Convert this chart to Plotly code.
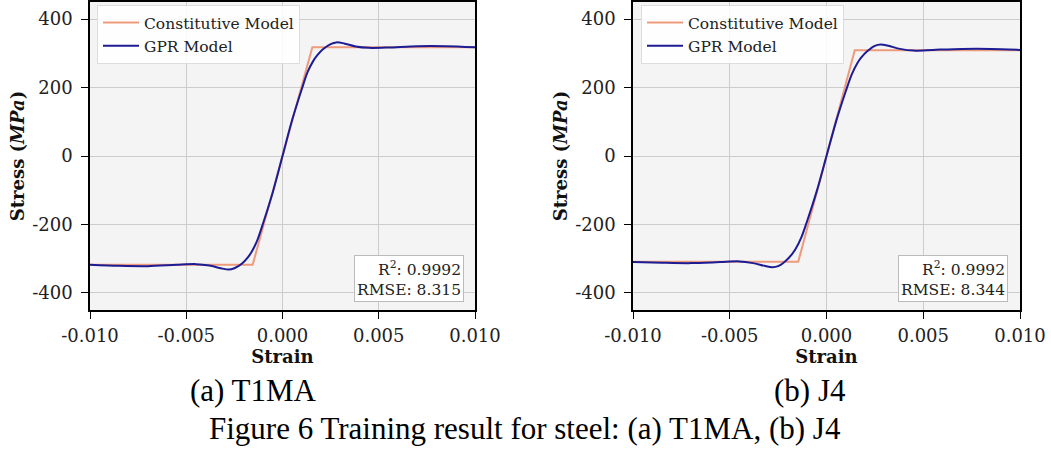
import plotly.graph_objects as go

# ---- data ----
strain_const_a = [-0.010, -0.00155, 0.00155, 0.010]
stress_const_a = [-318, -318, 318, 318]
strain_const_b = [-0.010, -0.00146, 0.00146, 0.010]
stress_const_b = [-309, -309, 309, 309]

strain_gpr = [-0.010, -0.0085, -0.007, -0.0055, -0.0045, -0.0038, -0.0032, -0.0028,
              -0.0025, -0.0021, -0.0018, -0.0016, -0.0013, -0.001, -0.0005, 0.0,
              0.0005, 0.001, 0.0013, 0.0016, 0.0018, 0.0021, 0.0025, 0.0028,
              0.0032, 0.0038, 0.0045, 0.0055, 0.007, 0.0085, 0.010]
stress_gpr_a = [-318, -321, -322, -318, -316, -320, -328, -332,
                -328, -314, -296, -280, -245, -195, -105, 0,
                105, 195, 245, 278, 294, 312, 327, 332,
                329, 320, 316, 317, 321, 321, 318]
stress_gpr_b = [-310, -312, -313, -310, -308, -313, -321, -325,
                -322, -306, -288, -272, -238, -190, -102, 0,
                102, 190, 238, 272, 288, 306, 322, 326,
                322, 313, 308, 310, 313, 313, 310]

metrics_a = ("0.9992", "8.315")
metrics_b = ("0.9992", "8.344")

x_ticks = [-0.010, -0.005, 0.0, 0.005, 0.010]
x_ticklabels = ["-0.010", "-0.005", "0.000", "0.005", "0.010"]
y_ticks = [-400, -200, 0, 200, 400]
y_ticklabels = ["-400", "-200", "0", "200", "400"]

C_CONST = "#ee9a7c"
C_GPR = "#1c1c94"
SERIF = "DejaVu Serif"
TIMES = "Liberation Serif"

fig = go.Figure()

for i, (sc, ssc, sg, leg) in enumerate([
        (strain_const_a, stress_const_a, stress_gpr_a, "legend"),
        (strain_const_b, stress_const_b, stress_gpr_b, "legend2")]):
    xa = "x" if i == 0 else "x2"
    ya = "y" if i == 0 else "y2"
    fig.add_trace(go.Scatter(x=sc, y=ssc, mode="lines", name="Constitutive Model",
                             line=dict(color=C_CONST, width=2), xaxis=xa, yaxis=ya, legend=leg))
    fig.add_trace(go.Scatter(x=strain_gpr, y=sg, mode="lines", name="GPR Model",
                             line=dict(color=C_GPR, width=2, shape="spline", smoothing=0.8),
                             xaxis=xa, yaxis=ya, legend=leg))

W, H = 1051, 453
ydom = [1 - 310 / H, 1 - 2 / H]
xdom1 = [90 / W, 475 / W]
xdom2 = [633 / W, 1020 / W]

def xax(dom, anchor):
    return dict(domain=dom, anchor=anchor, range=[-0.010, 0.010], tickvals=x_ticks,
                ticktext=x_ticklabels, ticks="outside", ticklen=7, tickwidth=1.3,
                tickcolor="black", showgrid=True, gridcolor="#cccccc", gridwidth=1,
                showline=True, linecolor="black", linewidth=1.5, mirror=True,
                zeroline=False, automargin=False, ticklabelstandoff=2,
                tickfont=dict(family=SERIF, size=18, color="#222"),
                title=dict(text="<b>Strain</b>", font=dict(family=SERIF, size=18, color="#111"),
                           standoff=0))

def yax(anchor):
    return dict(domain=ydom, anchor=anchor, range=[-450, 450], tickvals=y_ticks,
                ticktext=y_ticklabels, ticks="outside", ticklen=7, tickwidth=1.3,
                tickcolor="black", showgrid=True, gridcolor="#cccccc", gridwidth=1,
                showline=True, linecolor="black", linewidth=1.5, mirror=True,
                zeroline=False, automargin=False, ticklabelstandoff=5,
                tickfont=dict(family=SERIF, size=18, color="#222"),
                title=dict(text="<b>Stress (<i>MPa</i>)</b>",
                           font=dict(family=SERIF, size=18, color="#111"), standoff=3))

legend_common = dict(bgcolor="rgba(255,255,255,0.85)", bordercolor="#dddddd", borderwidth=1,
                     font=dict(family=SERIF, size=15.5, color="#222"), xanchor="left",
                     yanchor="top", tracegroupgap=0, itemwidth=36)

fig.update_layout(
    width=W, height=H, margin=dict(l=0, r=0, t=0, b=0),
    paper_bgcolor="white", plot_bgcolor="#f4f4f4",
    xaxis=xax(xdom1, "y"), yaxis=yax("x"),
    xaxis2=xax(xdom2, "y2"), yaxis2=yax("x2"),
    legend=dict(x=97 / W, y=1 - 5 / H, **legend_common),
    legend2=dict(x=641 / W, y=1 - 5 / H, **legend_common),
    showlegend=True,
)

for (r2, rmse), xr in [(metrics_a, 464 / W), (metrics_b, 1008 / W)]:
    fig.add_annotation(xref="paper", yref="paper", x=xr, y=1 - 302 / H,
                       xanchor="right", yanchor="bottom", align="right", showarrow=False,
                       text=f"R<sup>2</sup>: {r2}<br>RMSE: {rmse}",
                       font=dict(family=SERIF, size=15.5, color="#222"),
                       bgcolor="white", bordercolor="#bbbbbb", borderwidth=1, borderpad=2)

fig.add_annotation(xref="paper", yref="paper", x=253 / W, y=1 - 390 / H, showarrow=False,
                   text="(a) T1MA", font=dict(family=TIMES, size=31, color="black"),
                   xanchor="center", yanchor="middle")
fig.add_annotation(xref="paper", yref="paper", x=810 / W, y=1 - 390 / H, showarrow=False,
                   text="(b) J4", font=dict(family=TIMES, size=31, color="black"),
                   xanchor="center", yanchor="middle")
fig.add_annotation(xref="paper", yref="paper", x=525 / W, y=1 - 428 / H, showarrow=False,
                   text="Figure 6 Training result for steel: (a) T1MA, (b) J4",
                   font=dict(family=TIMES, size=31, color="black"),
                   xanchor="center", yanchor="middle")

fig.write_html("out.html")
